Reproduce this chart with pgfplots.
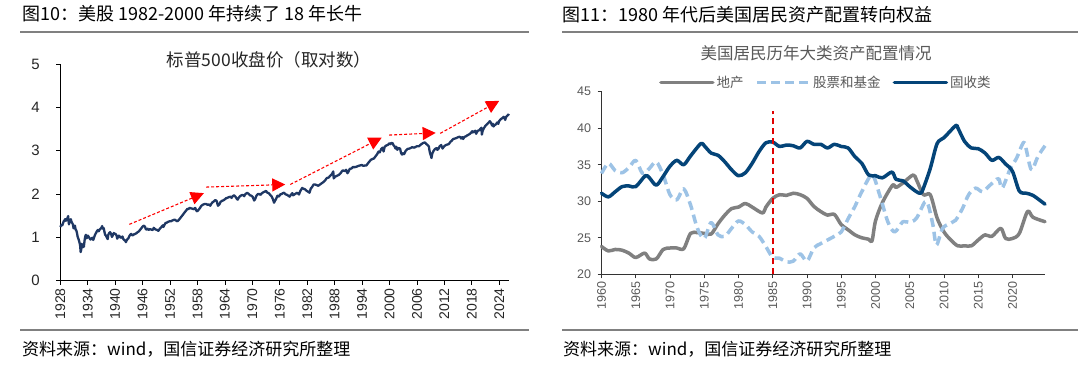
\documentclass[border=0pt]{standalone}
\usepackage{fontspec}
\setmainfont{Liberation Sans}
\newfontfamily\cjk{Noto Sans CJK SC}
\usepackage{pgfplots}
\pgfplotsset{compat=1.18}
\usetikzlibrary{arrows.meta}
\definecolor{navy}{HTML}{1F3864}
\definecolor{fixblue}{RGB}{4,68,120}
\definecolor{stockblue}{HTML}{9DC3E6}
\definecolor{estgray}{HTML}{808080}
\definecolor{txtgray}{HTML}{595959}
\definecolor{rulegray}{HTML}{808080}
\definecolor{myred}{HTML}{E00000}

\pgfplotstableread{
x y
1928.00 1.24
1928.15 1.27
1928.30 1.29
1928.45 1.28
1928.60 1.33
1928.75 1.37
1928.90 1.39
1929.05 1.42
1929.20 1.38
1929.35 1.43
1929.50 1.41
1929.65 1.47
1929.72 1.49
1929.82 1.36
1929.90 1.30
1930.00 1.35
1930.15 1.38
1930.30 1.42
1930.45 1.36
1930.60 1.33
1930.75 1.30
1930.90 1.21
1931.05 1.24
1931.20 1.27
1931.35 1.18
1931.50 1.16
1931.65 1.10
1931.80 1.01
1931.95 0.97
1932.10 0.92
1932.25 0.86
1932.35 0.80
1932.45 0.66
1932.55 0.70
1932.65 0.85
1932.75 0.82
1932.90 0.77
1933.05 0.84
1933.15 0.78
1933.30 0.92
1933.45 1.02
1933.60 1.06
1933.75 0.98
1933.90 1.00
1934.05 1.04
1934.20 1.01
1934.40 0.98
1934.60 0.95
1934.80 0.97
1935.00 0.99
1935.20 0.94
1935.40 1.00
1935.60 1.06
1935.80 1.10
1936.00 1.14
1936.20 1.17
1936.40 1.14
1936.60 1.18
1936.80 1.20
1937.00 1.22
1937.15 1.26
1937.30 1.20
1937.50 1.21
1937.65 1.13
1937.80 1.06
1938.00 1.04
1938.20 0.99
1938.35 0.96
1938.50 1.06
1938.70 1.10
1938.90 1.12
1939.10 1.08
1939.30 1.01
1939.50 1.05
1939.70 1.10
1939.90 1.08
1940.10 1.08
1940.30 1.04
1940.45 0.97
1940.60 1.00
1940.80 1.04
1941.00 1.02
1941.20 0.99
1941.40 1.00
1941.60 1.02
1941.80 0.96
1942.00 0.94
1942.20 0.92
1942.35 0.89
1942.50 0.93
1942.70 0.96
1942.90 0.98
1943.10 1.03
1943.30 1.06
1943.50 1.08
1943.70 1.05
1943.90 1.05
1944.10 1.07
1944.40 1.08
1944.70 1.10
1944.90 1.12
1945.20 1.14
1945.50 1.18
1945.80 1.22
1946.00 1.25
1946.30 1.27
1946.50 1.25
1946.70 1.19
1946.90 1.18
1947.10 1.20
1947.30 1.17
1947.60 1.19
1947.90 1.18
1948.20 1.17
1948.45 1.22
1948.70 1.19
1948.90 1.18
1949.20 1.17
1949.45 1.15
1949.70 1.19
1949.95 1.22
1950.20 1.25
1950.45 1.28
1950.55 1.24
1950.80 1.29
1951.00 1.33
1951.30 1.34
1951.60 1.36
1951.90 1.37
1952.20 1.37
1952.50 1.39
1952.80 1.40
1953.00 1.41
1953.30 1.39
1953.60 1.37
1953.90 1.40
1954.20 1.44
1954.50 1.48
1954.80 1.52
1955.00 1.55
1955.30 1.59
1955.60 1.63
1955.80 1.66
1956.00 1.65
1956.30 1.68
1956.60 1.67
1956.90 1.66
1957.20 1.65
1957.50 1.68
1957.80 1.61
1957.95 1.60
1958.20 1.63
1958.50 1.67
1958.80 1.72
1959.00 1.74
1959.30 1.76
1959.60 1.77
1959.90 1.77
1960.20 1.75
1960.50 1.76
1960.80 1.73
1961.00 1.77
1961.30 1.81
1961.60 1.83
1961.90 1.86
1962.20 1.84
1962.40 1.76
1962.50 1.73
1962.80 1.76
1963.00 1.81
1963.30 1.84
1963.60 1.85
1963.90 1.87
1964.20 1.90
1964.50 1.91
1964.90 1.93
1965.30 1.94
1965.45 1.91
1965.70 1.95
1966.00 1.97
1966.30 1.94
1966.60 1.89
1966.80 1.87
1967.00 1.91
1967.30 1.95
1967.60 1.97
1967.90 1.98
1968.20 1.95
1968.50 2.00
1968.90 2.03
1969.20 2.00
1969.50 1.97
1969.80 1.96
1970.10 1.93
1970.40 1.85
1970.60 1.88
1970.90 1.96
1971.20 2.00
1971.50 2.00
1971.80 1.98
1972.00 2.01
1972.40 2.04
1972.80 2.06
1973.00 2.07
1973.30 2.03
1973.60 2.02
1973.90 1.98
1974.20 1.95
1974.50 1.88
1974.75 1.80
1974.95 1.84
1975.20 1.89
1975.50 1.96
1975.80 1.94
1976.10 1.99
1976.40 2.00
1976.70 2.02
1976.95 2.03
1977.30 1.99
1977.60 1.98
1977.90 1.96
1978.15 1.94
1978.50 1.99
1978.75 2.02
1978.90 1.97
1979.20 1.99
1979.50 2.01
1979.80 2.03
1980.20 1.99
1980.50 2.07
1980.90 2.14
1981.20 2.12
1981.50 2.11
1981.80 2.08
1982.10 2.06
1982.50 2.03
1982.80 2.13
1983.00 2.15
1983.40 2.22
1983.70 2.22
1984.00 2.21
1984.40 2.19
1984.80 2.22
1985.20 2.25
1985.60 2.28
1985.95 2.32
1986.30 2.37
1986.70 2.38
1987.00 2.42
1987.40 2.46
1987.70 2.52
1987.80 2.36
1988.10 2.40
1988.50 2.42
1988.90 2.44
1989.30 2.48
1989.70 2.54
1989.95 2.54
1990.30 2.53
1990.50 2.56
1990.80 2.48
1991.00 2.51
1991.30 2.58
1991.70 2.59
1991.95 2.62
1992.40 2.62
1992.80 2.63
1993.20 2.65
1993.60 2.66
1993.95 2.67
1994.30 2.65
1994.70 2.66
1994.95 2.66
1995.30 2.71
1995.60 2.75
1995.95 2.79
1996.30 2.81
1996.60 2.82
1996.95 2.87
1997.30 2.92
1997.60 2.98
1997.85 2.96
1998.20 3.04
1998.50 3.07
1998.70 2.98
1998.95 3.09
1999.30 3.12
1999.60 3.13
1999.95 3.17
2000.20 3.15
2000.40 3.18
2000.70 3.17
2000.90 3.12
2001.10 3.10
2001.30 3.05
2001.50 3.09
2001.70 3.02
2001.95 3.06
2002.30 3.05
2002.55 2.94
2002.75 2.91
2002.95 2.94
2003.20 2.92
2003.50 2.99
2003.95 3.04
2004.40 3.05
2004.95 3.08
2005.40 3.07
2005.95 3.10
2006.40 3.10
2006.95 3.15
2007.40 3.18
2007.75 3.19
2008.00 3.16
2008.30 3.13
2008.60 3.10
2008.75 3.00
2008.90 2.93
2009.10 2.87
2009.18 2.83
2009.35 2.93
2009.60 2.99
2009.95 3.04
2010.30 3.06
2010.45 3.02
2010.70 3.04
2010.95 3.10
2011.30 3.13
2011.60 3.05
2011.95 3.10
2012.30 3.13
2012.60 3.14
2012.95 3.15
2013.30 3.20
2013.60 3.23
2013.95 3.27
2014.30 3.28
2014.60 3.29
2014.95 3.31
2015.30 3.32
2015.60 3.31
2015.65 3.28
2015.95 3.31
2016.10 3.27
2016.40 3.32
2016.70 3.33
2016.95 3.35
2017.30 3.37
2017.60 3.39
2017.95 3.43
2018.10 3.45
2018.20 3.42
2018.50 3.44
2018.75 3.46
2018.95 3.39
2019.30 3.46
2019.60 3.47
2019.95 3.51
2020.10 3.53
2020.20 3.37
2020.35 3.45
2020.60 3.51
2020.95 3.57
2021.30 3.61
2021.60 3.64
2021.95 3.68
2022.20 3.64
2022.45 3.58
2022.60 3.62
2022.75 3.56
2023.00 3.59
2023.30 3.61
2023.55 3.65
2023.80 3.62
2023.95 3.68
2024.20 3.71
2024.50 3.74
2024.70 3.75
2024.95 3.78
2025.15 3.76
2025.30 3.71
2025.50 3.78
2025.80 3.81
2026.00 3.83
2026.10 3.85
}\spx

\pgfplotstableread{
x y
1960 23.8
1961 23.2
1962 23.4
1963 23.3
1964 22.9
1965 22.3
1966.3 22.9
1967 22.1
1968 22.1
1969 23.4
1970 23.6
1971 23.6
1972 23.5
1973 25.6
1974 25.7
1975 25.6
1976 25.5
1977 26.9
1978 28.1
1979 29.0
1980 29.2
1981 29.7
1982 29.2
1983.5 28.4
1984 29.2
1985 30.4
1986 30.9
1987 30.8
1988 31.1
1989 30.9
1990 30.4
1991 29.3
1992 28.6
1993 28.1
1994 28.2
1995 26.8
1996 26.1
1997 25.4
1998 25.0
1999 24.8
1999.5 24.6
2000 27.3
2001 29.8
2002.5 32.2
2003 31.9
2004 32.5
2005.5 33.6
2006 32.9
2007 30.9
2008 30.9
2009 27.7
2010 25.8
2011 24.7
2012 23.9
2013 23.9
2014 23.9
2015 24.7
2016 25.4
2017 25.2
2018.3 26.3
2019 24.9
2020 24.9
2021 25.6
2022.2 28.6
2023 27.8
2024.75 27.2
}\estate

\pgfplotstableread{
x y
1960 33.8
1961 35.2
1962 34.2
1963 33.9
1964 34.6
1965 35.6
1966 33.8
1967 34.5
1968 35.4
1969 33.6
1970 30.9
1971 30.2
1972 31.7
1973 29.5
1974 26.3
1975 24.9
1976 27.1
1977 25.4
1978 25.2
1979 26.3
1980 27.3
1981 26.8
1982 25.8
1983 25.2
1984 23.8
1985 22.3
1986 22.2
1987 21.7
1988 21.8
1989 22.8
1990 21.8
1991 23.6
1992 24.2
1993 24.7
1994 25.2
1995 25.8
1996 27.6
1997 29.3
1998 31.3
1999.5 33.6
2000.6 30.9
2001.8 27.2
2002.8 25.8
2004 27.2
2005 27.1
2006 27.7
2007.2 29.9
2007.7 29.5
2008.4 26.7
2008.9 24.0
2009.8 26.3
2011 27.0
2011.7 27.4
2012.7 29.0
2013.6 30.9
2014.6 31.8
2015.6 31.3
2016.5 32.0
2017.3 32.7
2018 33.1
2018.5 31.8
2019.7 34.5
2020.6 35.9
2021.4 37.7
2021.8 37.9
2022.5 35.0
2022.9 34.3
2023.7 36.1
2024.75 37.6
}\stocks

\pgfplotstableread{
x y
1960 31.1
1961 30.6
1962 31.3
1963 32.0
1964 32.1
1965 32.0
1966.4 33.5
1967 33.2
1968 32.2
1969 33.4
1970 34.8
1971 35.6
1972 35.0
1973 36.2
1974.5 37.9
1975 37.6
1976 36.6
1977 36.3
1978 35.4
1979 34.3
1980 33.5
1981 33.9
1982 35.2
1983 36.8
1984 38.0
1985 38.1
1986 37.5
1987 37.7
1988 37.6
1989 37.3
1990 38.2
1991 37.8
1992 37.8
1993 37.3
1994 37.8
1995 37.5
1996 37.3
1997 36.1
1998 35.2
1999 33.6
2000 33.5
2001 33.2
2002.4 34.0
2003 33.0
2004 32.8
2005 32.0
2006 31.3
2006.6 31.1
2007 31.8
2008 34.5
2009 37.9
2010 38.7
2011.7 40.35
2012 40.1
2013 38.2
2014 37.3
2015 37.2
2016 36.6
2017 35.6
2018 36.0
2019 35.1
2020 34.1
2021 31.4
2022 31.1
2023 30.8
2024.75 29.6
}\fixed

\begin{document}
\begin{tikzpicture}[x=1pt,y=1pt]
\useasboundingbox (0,0) rectangle (1080,367);
\fill[white] (0,0) rectangle (1080,367);

% headers
\node[anchor=west, inner sep=0] at (22,353) {\cjk\fontsize{18}{18}\selectfont 图10：美股 1982-2000 年持续了 18 年长牛};
\node[anchor=west, inner sep=0] at (562,352) {\cjk\fontsize{18}{18}\selectfont 图11：1980 年代后美国居民资产配置转向权益};
\draw[rulegray, line width=1.5pt] (20,335) -- (529,335);
\draw[rulegray, line width=1.5pt] (562,335) -- (1078,335);
\draw[rulegray, line width=1.5pt] (20,37) -- (529,37);
\draw[rulegray, line width=1.5pt] (562,37) -- (1078,37);
\node[anchor=west, inner sep=0] at (22,18) {\cjk\fontsize{17}{17}\selectfont 资料来源：wind，国信证券经济研究所整理};
\node[anchor=west, inner sep=0] at (563,18) {\cjk\fontsize{17}{17}\selectfont 资料来源：wind，国信证券经济研究所整理};

% chart titles
\node[inner sep=0, text=black!85] at (269,307) {\cjk\fontsize{17.5}{17.5}\selectfont 标普500收盘价（取对数）};
\node[inner sep=0, text=txtgray] at (816,314) {\cjk\fontsize{16.5}{16.5}\selectfont 美国居民历年大类资产配置情况};

\begin{axis}[
  at={(60.3pt,86.3pt)}, anchor=south west, scale only axis,
  width=449pt, height=216.7pt,
  xmin=1928, xmax=2026.2, ymin=0, ymax=5,
  axis x line=bottom, axis y line=left,
  axis line style={-, line width=1pt, black},
  xtick={1928,1934,...,2024}, ytick={0,1,2,3,4,5},
  tick align=outside, major tick length=4pt,
  tick style={black, line width=0.8pt},
  xticklabel style={rotate=90, anchor=east, font=\fontsize{14}{14}\selectfont, text=black!85},
  yticklabel style={font=\fontsize{15}{15}\selectfont, xshift=-13pt, text=black!85},
  /pgf/number format/1000 sep={},
  /pgf/number format/assume math mode=true,
  clip=false,
]
\addplot[color=navy, line width=2.3pt, line join=round, mark=none] table[x=x,y=y] {\spx};
\addplot[color=red, line width=1.1pt, dash pattern=on 3pt off 2pt, -{Triangle[length=13pt,width=13pt]}, mark=none] coordinates {(1943.1,1.30) (1959.4,2.02)};
\addplot[color=red, line width=1.1pt, dash pattern=on 3pt off 2pt, -{Triangle[length=13pt,width=13pt]}, mark=none] coordinates {(1959.9,2.16) (1977.2,2.22)};
\addplot[color=red, line width=1.1pt, dash pattern=on 3pt off 2pt, -{Triangle[length=13pt,width=13pt]}, mark=none] coordinates {(1978.3,2.22) (1998.3,3.30)};
\addplot[color=red, line width=1.1pt, dash pattern=on 3pt off 2pt, -{Triangle[length=13pt,width=13pt]}, mark=none] coordinates {(1999.9,3.36) (2010.1,3.41)};
\addplot[color=red, line width=1.1pt, dash pattern=on 3pt off 2pt, -{Triangle[length=13pt,width=13pt]}, mark=none] coordinates {(2011.1,3.40) (2024.0,4.15)};
\end{axis}

\begin{axis}[
  at={(601.5pt,92.7pt)}, anchor=south west, scale only axis,
  width=443.5pt, height=182.6pt,
  xmin=1960, xmax=2024.75, ymin=20, ymax=45,
  axis x line=bottom, axis y line=left,
  axis line style={-, line width=1pt, black!80},
  xtick={1960,1965,...,2020}, ytick={20,25,...,45},
  tick align=outside, major tick length=4pt,
  tick style={black!80, line width=0.8pt},
  xticklabel style={rotate=90, anchor=east, font=\fontsize{12.5}{12.5}\selectfont, text=txtgray},
  yticklabel style={font=\fontsize{12.5}{12.5}\selectfont, xshift=-3pt, text=txtgray},
  /pgf/number format/1000 sep={},
  /pgf/number format/assume math mode=true,
  clip=false,
  legend style={at={(0.506,1.051)}, anchor=center, draw=none, fill=none,
    legend columns=3, font=\cjk\fontsize{13.5}{13.5}\selectfont, text=txtgray,
    /tikz/every even column/.append style={column sep=10pt},
    inner sep=0pt},
  legend image code/.code={\draw[#1] (0pt,0pt) -- (52pt,0pt);},
]
\addplot[color=estgray, line width=3.5pt, line cap=round, line join=round, smooth, tension=0.5, mark=none] table[x=x,y=y] {\estate};
\addlegendentry{地产}
\addplot[color=stockblue, line width=3.5pt, dash pattern=on 9pt off 5pt, line join=round, smooth, tension=0.5, mark=none] table[x=x,y=y] {\stocks};
\addlegendentry{股票和基金}
\addplot[color=fixblue, line width=3.5pt, line cap=round, line join=round, smooth, tension=0.5, mark=none] table[x=x,y=y] {\fixed};
\addlegendentry{固收类}
\addplot[color=myred, line width=1.8pt, dash pattern=on 6pt off 4pt, mark=none, forget plot] coordinates {(1985,20) (1985,42.3)};
\end{axis}
\end{tikzpicture}
\end{document}
